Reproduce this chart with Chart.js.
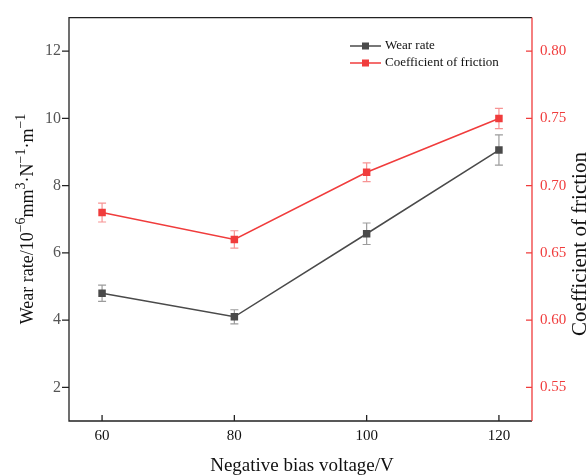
<!DOCTYPE html>
<html><head><meta charset="utf-8">
<script src="https://cdn.jsdelivr.net/npm/chart.js@4/dist/chart.umd.min.js"></script>
<style>html,body{margin:0;padding:0;background:#fff}#wrap{width:588px;height:476px}</style>
</head><body><div id="wrap"><canvas id="c" width="588" height="476"></canvas></div>
<script>
const voltages = [60, 80, 100, 120];
const wearRate = [4.80, 4.10, 6.57, 9.06];
const wearErr = [0.24, 0.21, 0.32, 0.45];
const cof = [0.680, 0.660, 0.710, 0.750];
const cofErr = [0.007, 0.0065, 0.007, 0.0075];
const xTicks = [60, 80, 100, 120];
const leftTicks = [2, 4, 6, 8, 10, 12];
const rightTicks = [0.55, 0.60, 0.65, 0.70, 0.75, 0.80];

const GRAY = '#4a4a4a', RED = '#f03c3c';
const SERIF = '"Liberation Serif", "Times New Roman", serif';

const errPlugin = {
  id: 'err',
  beforeDatasetsDraw(chart) {
    const ctx = chart.ctx, x = chart.scales.x;
    const sets = [[wearRate, wearErr, chart.scales.y, 'rgba(74,74,74,0.55)'],
                  [cof, cofErr, chart.scales.y1, 'rgba(240,60,60,0.55)']];
    ctx.save();
    ctx.lineWidth = 1.2;
    sets.forEach(([v, e, ys, col]) => {
      ctx.strokeStyle = col;
      v.forEach((val, i) => {
        const px = x.getPixelForValue(voltages[i]);
        const t = ys.getPixelForValue(val + e[i]), b = ys.getPixelForValue(val - e[i]);
        ctx.beginPath();
        ctx.moveTo(px, t); ctx.lineTo(px, b);
        ctx.moveTo(px - 4, t); ctx.lineTo(px + 4, t);
        ctx.moveTo(px - 4, b); ctx.lineTo(px + 4, b);
        ctx.stroke();
      });
    });
    ctx.restore();
  }
};

const framePlugin = {
  id: 'frame',
  afterDraw(chart) {
    const ctx = chart.ctx, a = chart.chartArea;
    const x = chart.scales.x, y = chart.scales.y, y1 = chart.scales.y1;
    ctx.save();
    ctx.lineWidth = 1.3;
    ctx.strokeStyle = '#222';
    ctx.beginPath();
    ctx.moveTo(a.right, a.top); ctx.lineTo(a.left, a.top); ctx.lineTo(a.left, a.bottom); ctx.lineTo(a.right, a.bottom);
    xTicks.forEach(v => { const p = x.getPixelForValue(v); ctx.moveTo(p, a.bottom); ctx.lineTo(p, a.bottom - 6); });
    leftTicks.forEach(v => { const p = y.getPixelForValue(v); ctx.moveTo(a.left, p); ctx.lineTo(a.left - 7, p); });
    ctx.stroke();
    ctx.strokeStyle = RED;
    ctx.beginPath();
    ctx.moveTo(a.right, a.top); ctx.lineTo(a.right, a.bottom);
    rightTicks.forEach(v => { const p = y1.getPixelForValue(v); ctx.moveTo(a.right, p); ctx.lineTo(a.right - 6, p); });
    ctx.stroke();

    // legend
    const items = [['Wear rate', GRAY, 46], ['Coefficient of friction', RED, 63]];
    ctx.font = '13px ' + SERIF;
    ctx.textBaseline = 'middle';
    items.forEach(([t, c, yy]) => {
      ctx.strokeStyle = c; ctx.lineWidth = 1.5;
      ctx.beginPath(); ctx.moveTo(350, yy); ctx.lineTo(381, yy); ctx.stroke();
      ctx.fillStyle = c; ctx.fillRect(362, yy - 3.5, 7, 7);
      ctx.fillStyle = '#111';
      ctx.fillText(t, 385, yy);
    });

    // x title
    ctx.fillStyle = '#111';
    ctx.font = '19px ' + SERIF;
    ctx.textAlign = 'center';
    ctx.textBaseline = 'middle';
    ctx.fillText('Negative bias voltage/V', 302, 466);

    // right title
    ctx.save();
    ctx.translate(580, 244);
    ctx.rotate(-Math.PI / 2);
    ctx.font = '21px ' + SERIF;
    ctx.fillText('Coefficient of friction', 0, 0);
    ctx.restore();

    // left title with superscripts
    const parts = [['Wear rate/10', 0], ['\u22126', 1], ['mm', 0], ['3', 1], ['\u00b7N', 0], ['\u22121', 1], ['\u00b7m', 0], ['\u22121', 1]];
    const mainF = '18px ' + SERIF, supF = '14px ' + SERIF;
    let total = 0;
    parts.forEach(([t, s]) => { ctx.font = s ? supF : mainF; total += ctx.measureText(t).width; });
    ctx.save();
    ctx.translate(33, 219);
    ctx.rotate(-Math.PI / 2);
    ctx.textAlign = 'left';
    ctx.textBaseline = 'alphabetic';
    let cx = -total / 2;
    parts.forEach(([t, s]) => {
      ctx.font = s ? supF : mainF;
      ctx.fillText(t, cx, s ? -8 : 0);
      cx += ctx.measureText(t).width;
    });
    ctx.restore();
    ctx.restore();
  }
};

new Chart(document.getElementById('c'), {
  type: 'line',
  data: {
    datasets: [
      { label: 'Wear rate', data: voltages.map((v, i) => ({ x: v, y: wearRate[i] })), yAxisID: 'y',
        borderColor: GRAY, backgroundColor: GRAY, borderWidth: 1.5, pointStyle: 'rect', pointRadius: 5.3, pointBorderWidth: 0 },
      { label: 'Coefficient of friction', data: voltages.map((v, i) => ({ x: v, y: cof[i] })), yAxisID: 'y1',
        borderColor: RED, backgroundColor: RED, borderWidth: 1.5, pointStyle: 'rect', pointRadius: 5.3, pointBorderWidth: 0 }
    ]
  },
  options: {
    responsive: false, animation: false,
    layout: { padding: { top: 15, left: 0, right: 0, bottom: 0 } },
    plugins: { legend: { display: false }, tooltip: { enabled: false } },
    scales: {
      x: { type: 'linear', min: 55, max: 125,
        afterBuildTicks: s => { s.ticks = xTicks.map(v => ({ value: v })); },
        afterFit: s => { s.height = 55; },
        grid: { display: false, drawTicks: false }, border: { display: false },
        ticks: { padding: 6, color: '#111', font: { family: SERIF, size: 15 } } },
      y: { position: 'left', min: 1, max: 13,
        afterBuildTicks: s => { s.ticks = leftTicks.map(v => ({ value: v })); },
        afterFit: s => { s.width = 69; },
        grid: { display: false, drawTicks: false }, border: { display: false },
        ticks: { padding: 8, color: '#555', font: { family: SERIF, size: 16 } } },
      y1: { position: 'right', min: 0.525, max: 0.825,
        afterBuildTicks: s => { s.ticks = rightTicks.map(v => ({ value: v })); },
        afterFit: s => { s.width = 56; },
        grid: { display: false, drawTicks: false }, border: { display: false },
        ticks: { padding: 8, color: RED, font: { family: SERIF, size: 15 }, callback: v => Number(v).toFixed(2) } }
    }
  },
  plugins: [errPlugin, framePlugin]
});
</script></body></html>
